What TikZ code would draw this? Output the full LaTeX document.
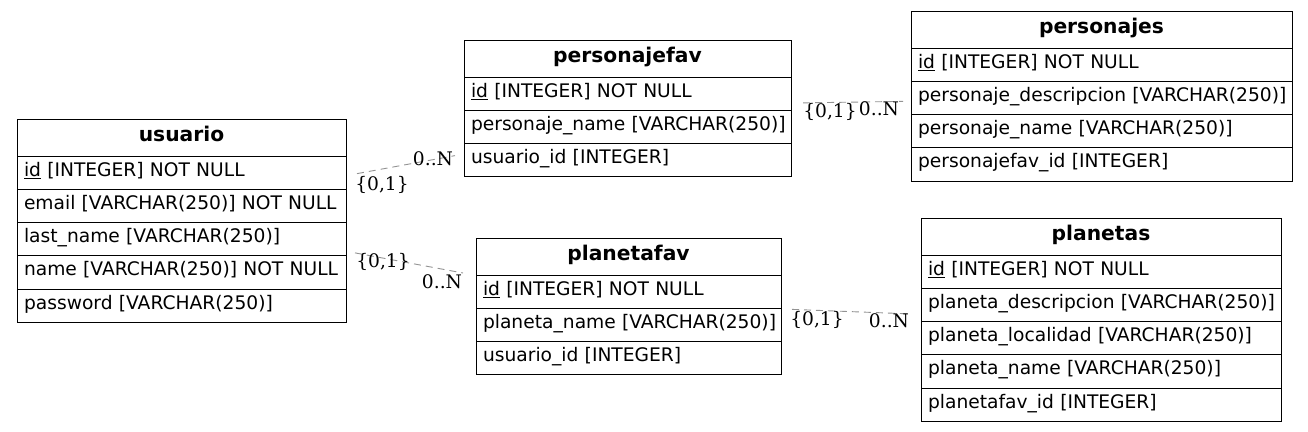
\documentclass[tikz,border=0pt]{standalone}
\usepackage{fontspec}
\setmainfont{DejaVu Sans}
\newfontfamily\lblfont{DejaVu Serif}
\usetikzlibrary{calc}
\newcommand\tfont{\fontsize{18.67}{22}\selectfont}
\newcommand\hfont{\fontsize{20.25}{24}\selectfont\bfseries}
\newcommand\keyid[1]{\underline{#1}}
\newcommand\rw[1]{\mbox{#1}}
\begin{document}
\begin{tikzpicture}[x=1pt,y=-1pt,
  cell/.style={draw=black, line width=1pt, anchor=north west, outer sep=0pt,
    inner xsep=7pt, inner ysep=0pt, minimum height=33.25pt,
    text height=13pt, text depth=6pt, align=left, font=\tfont},
  head/.style={cell, minimum height=37pt, align=center, font=\hfont},
  rel/.style={draw=gray!85, line width=0.9pt, dash pattern=on 7pt off 5pt},
  card/.style={font=\lblfont\tfont, inner sep=0pt, text=black}
]
\useasboundingbox (0,0) rectangle (1308,431);
\fill[white] (0,0) rectangle (1308,431);

% usuario
\node[head, text width=315pt] (u-h) at (17,119) {usuario};
\node[cell, text width=315pt] (u-1) at (u-h.south west) {\rw{\keyid{id} [INTEGER] NOT NULL}};
\node[cell, text width=315pt] (u-2) at (u-1.south west) {\rw{email [VARCHAR(250)] NOT NULL}};
\node[cell, text width=315pt] (u-3) at (u-2.south west) {\rw{last\_name [VARCHAR(250)]}};
\node[cell, text width=315pt] (u-4) at (u-3.south west) {\rw{name [VARCHAR(250)] NOT NULL}};
\node[cell, text width=315pt] (u-5) at (u-4.south west) {\rw{password [VARCHAR(250)]}};

% personajefav
\node[head, text width=313pt] (pf-h) at (464,40) {personajefav};
\node[cell, text width=313pt] (pf-1) at (pf-h.south west) {\rw{\keyid{id} [INTEGER] NOT NULL}};
\node[cell, text width=313pt] (pf-2) at (pf-1.south west) {\rw{personaje\_name [VARCHAR(250)]}};
\node[cell, text width=313pt] (pf-3) at (pf-2.south west) {\rw{usuario\_id [INTEGER]}};

% personajes
\node[head, text width=367pt] (p-h) at (911,11) {personajes};
\node[cell, text width=367pt] (p-1) at (p-h.south west) {\rw{\keyid{id} [INTEGER] NOT NULL}};
\node[cell, text width=367pt] (p-2) at (p-1.south west) {\rw{personaje\_descripcion [VARCHAR(250)]}};
\node[cell, text width=367pt] (p-3) at (p-2.south west) {\rw{personaje\_name [VARCHAR(250)]}};
\node[cell, text width=367pt] (p-4) at (p-3.south west) {\rw{personajefav\_id [INTEGER]}};

% planetafav
\node[head, text width=291pt] (lf-h) at (476,238) {planetafav};
\node[cell, text width=291pt] (lf-1) at (lf-h.south west) {\rw{\keyid{id} [INTEGER] NOT NULL}};
\node[cell, text width=291pt] (lf-2) at (lf-1.south west) {\rw{planeta\_name [VARCHAR(250)]}};
\node[cell, text width=291pt] (lf-3) at (lf-2.south west) {\rw{usuario\_id [INTEGER]}};

% planetas
\node[head, text width=346pt] (l-h) at (921,218) {planetas};
\node[cell, text width=346pt] (l-1) at (l-h.south west) {\rw{\keyid{id} [INTEGER] NOT NULL}};
\node[cell, text width=346pt] (l-2) at (l-1.south west) {\rw{planeta\_descripcion [VARCHAR(250)]}};
\node[cell, text width=346pt] (l-3) at (l-2.south west) {\rw{planeta\_localidad [VARCHAR(250)]}};
\node[cell, text width=346pt] (l-4) at (l-3.south west) {\rw{planeta\_name [VARCHAR(250)]}};
\node[cell, text width=346pt] (l-5) at (l-4.south west) {\rw{planetafav\_id [INTEGER]}};

% connector end points, placed relative to the tables
\coordinate (e1s) at ($(u-1.east)+(11,1)$);
\coordinate (e1t) at ($(pf-3.west)+(-9,-4.5)$);
\coordinate (e2s) at ($(u-4.east)+(9,-19.5)$);
\coordinate (e2t) at ($(lf-h.south west)+(-13,-2)$);
\coordinate (e3s) at ($(pf-2.east)+(12,-24)$);
\coordinate (e3t) at ($(p-2.west)+(-8,3.5)$);
\coordinate (e4s) at ($(lf-2.east)+(11,-15.5)$);
\coordinate (e4t) at ($(l-2.west)+(-11,9)$);

\draw[rel] (e1s) -- (e1t);
\draw[rel] (e2s) -- (e2t);
\draw[rel] (e3s) -- (e3t);
\draw[rel] (e4s) -- (e4t);

\node[card] (c1a) at (382,185) {\{0,1\}};
\node[card] (c1b) at (433,159) {0..N};
\node[card] (c2a) at (383,262) {\{0,1\}};
\node[card] (c2b) at (442,282) {0..N};
\node[card] (c3a) at (830,112) {\{0,1\}};
\node[card] (c3b) at (879,109) {0..N};
\node[card] (c4a) at (817,320) {\{0,1\}};
\node[card] (c4b) at (889,321) {0..N};
\end{tikzpicture}
\end{document}
